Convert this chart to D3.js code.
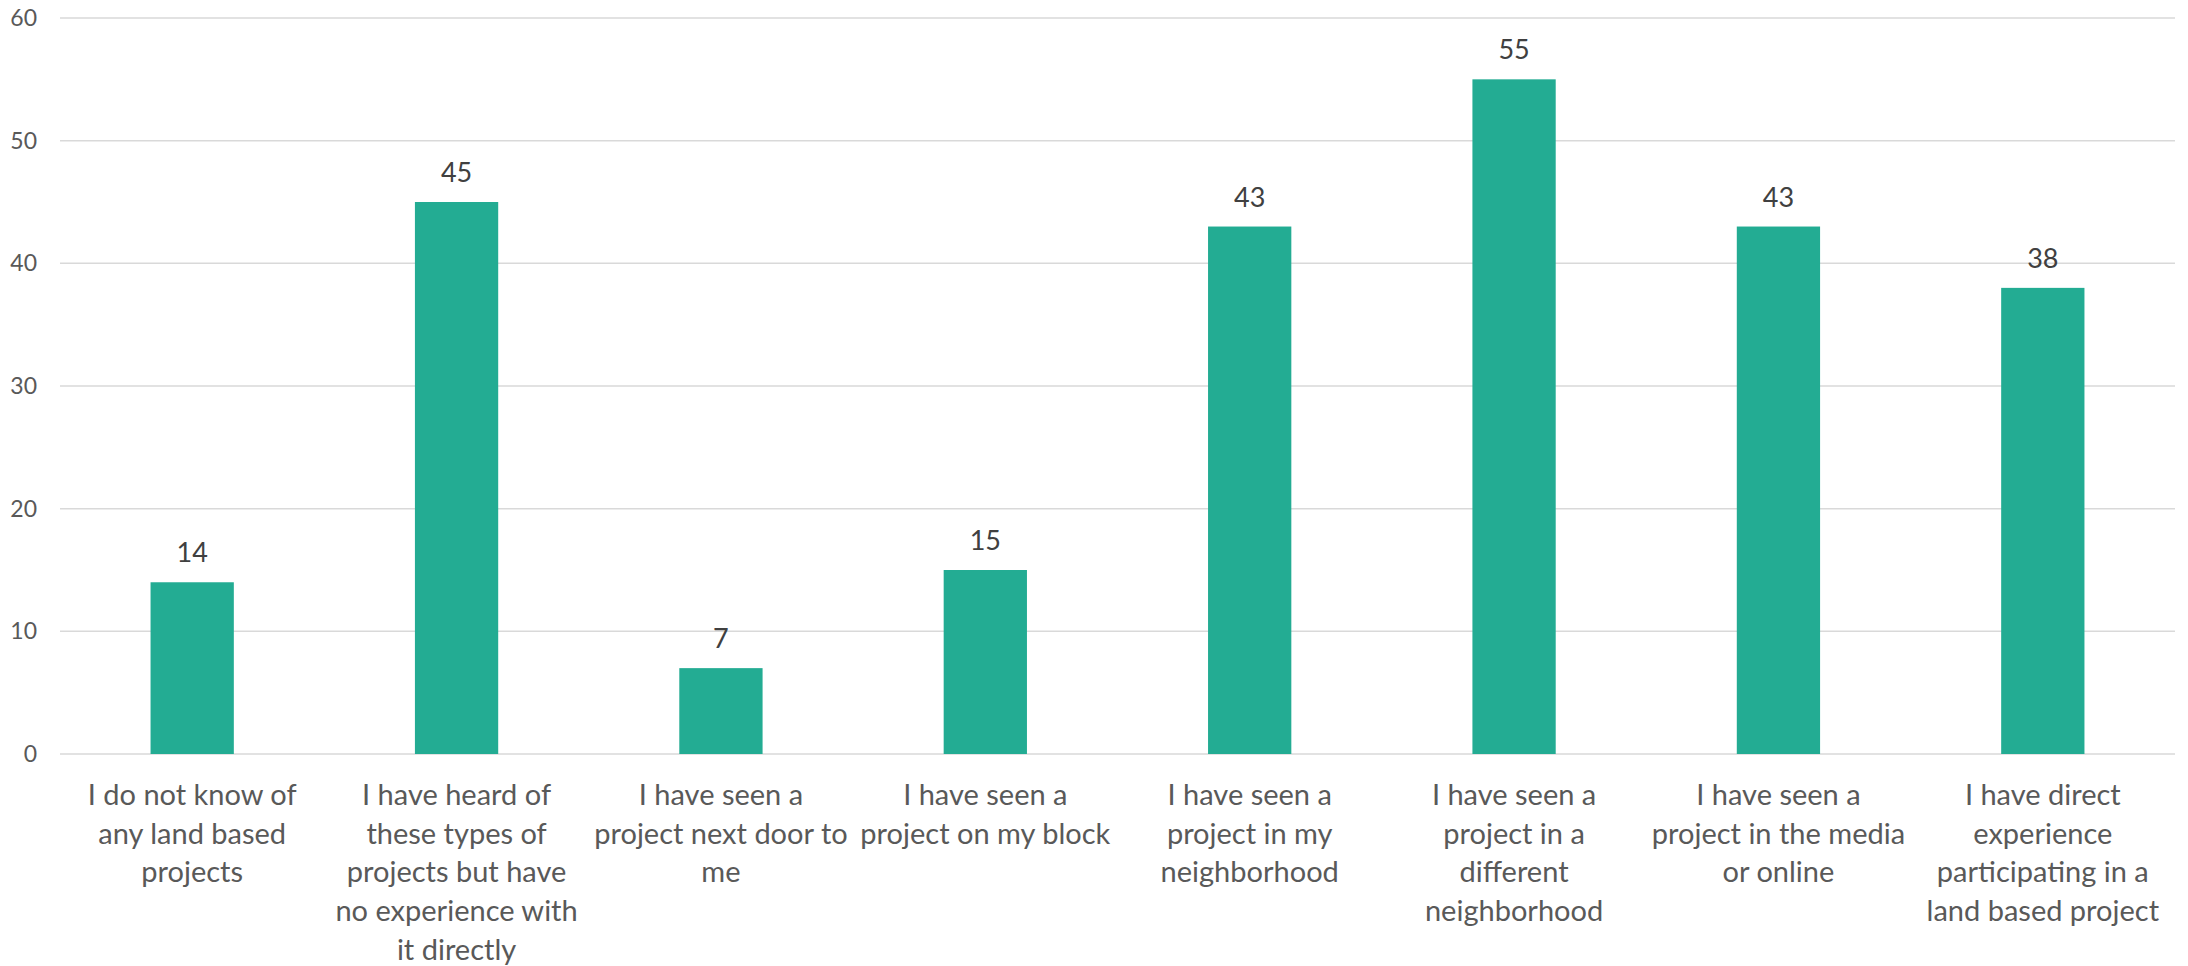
<!DOCTYPE html>
<html><head><meta charset="utf-8">
<script src="https://cdn.jsdelivr.net/npm/d3@7"></script>
<style>body{margin:0;background:#fff}</style>
</head><body>
<svg id="c" width="2188" height="966"></svg>
<script>
const categories = [
  ["I do not know of","any land based","projects"],
  ["I have heard of","these types of","projects but have","no experience with","it directly"],
  ["I have seen a","project next door to","me"],
  ["I have seen a","project on my block"],
  ["I have seen a","project in my","neighborhood"],
  ["I have seen a","project in a","different","neighborhood"],
  ["I have seen a","project in the media","or online"],
  ["I have direct","experience","participating in a","land based project"]
];
const values = [14,45,7,15,43,55,43,38];
const yTicks = [0,10,20,30,40,50,60];

(function(){
const svg = d3.select("#c");
const font = "Lato, 'Open Sans', sans-serif";
const pl = 60, pr = 2175, pt = 18, pb = 754;
const x = d3.scaleBand().domain(d3.range(categories.length)).range([pl,pr]).padding(0);
const y = d3.scaleLinear().domain([0,60]).range([pb,pt]);
const barW = x.bandwidth()*0.315;

svg.append("g").selectAll("line").data(yTicks).join("line")
  .attr("x1",pl).attr("x2",pr)
  .attr("y1",d=>y(d)).attr("y2",d=>y(d))
  .attr("stroke","#d9d9d9").attr("stroke-width",1.5);

svg.append("g").selectAll("text").data(yTicks).join("text")
  .attr("x",37).attr("y",d=>y(d)).attr("dy","0.35em")
  .attr("text-anchor","end").attr("font-family",font).attr("font-size",23)
  .attr("fill","#595959").text(d=>d);

svg.append("g").selectAll("rect").data(values).join("rect")
  .attr("x",(d,i)=>x(i)+x.bandwidth()/2-barW/2)
  .attr("width",barW)
  .attr("y",d=>y(d)).attr("height",d=>y(0)-y(d))
  .attr("fill","#23ac93");

svg.append("g").selectAll("text").data(values).join("text")
  .attr("x",(d,i)=>x(i)+x.bandwidth()/2)
  .attr("y",d=>y(d)-20)
  .attr("text-anchor","middle").attr("font-family",font).attr("font-size",27)
  .attr("fill","#404040").text(d=>d);

const lab = svg.append("g").selectAll("text").data(categories).join("text")
  .attr("text-anchor","middle").attr("font-family",font).attr("font-size",29)
  .attr("fill","#595959");
lab.each(function(lines,i){
  const t = d3.select(this);
  lines.forEach((ln,j)=>{
    t.append("tspan").attr("x",x(i)+x.bandwidth()/2).attr("y",805+j*38.7).text(ln);
  });
});
})();
</script>
</body></html>
